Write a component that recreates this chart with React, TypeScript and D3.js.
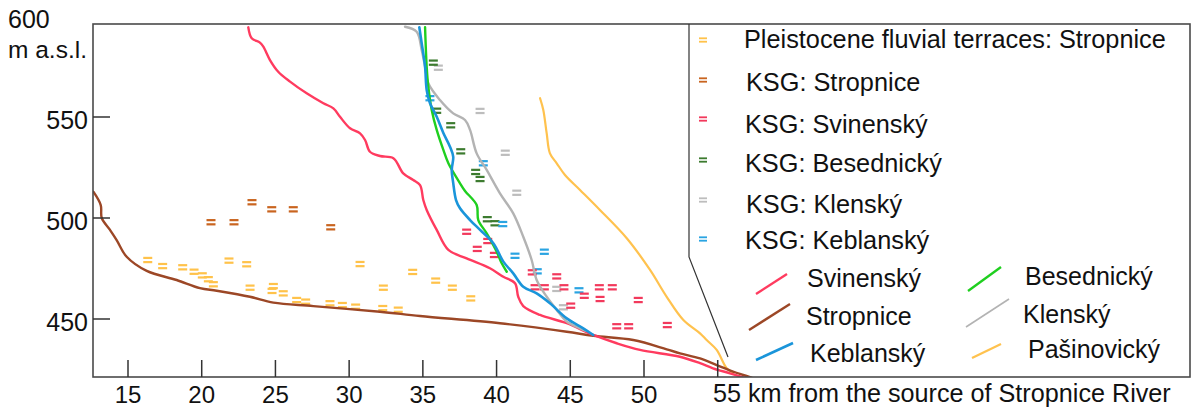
import React from "react";
import * as d3 from "d3";

type Pt = [number, number];

// Longitudinal profiles: [km from source, m a.s.l.]
const stropnice: Pt[] = [
  [12.65, 513.0], [13.15, 506.4], [13.22, 500.0], [13.78, 494.1], [14.23, 489.1],
  [14.91, 480.8], [16.27, 473.8], [18.3, 469.3], [19.88, 465.3], [21.02, 464.0],
  [23.27, 461.0], [24.86, 458.1], [27.57, 456.4], [32.09, 453.6], [34.81, 451.5],
  [40.23, 447.9], [44.76, 443.7], [46.56, 441.7], [49.27, 439.6], [51.54, 435.0],
  [52.44, 433.0], [53.8, 430.5], [54.93, 427.2], [56.04, 423.9], [57.3, 421.0],
];
const svinensky: Pt[] = [
  [23.16, 594.4], [23.39, 589.0], [23.95, 586.8], [24.18, 584.8], [24.63, 578.2],
  [25.19, 572.4], [25.99, 567.5], [27.12, 561.7], [28.25, 556.8], [28.93, 554.3],
  [29.38, 550.1], [30.06, 544.4], [30.74, 541.9], [31.08, 538.6], [31.41, 532.8],
  [32.09, 530.7], [33.0, 529.6], [33.67, 522.1], [34.35, 518.8], [34.81, 516.3],
  [35.03, 508.9], [35.26, 504.0], [35.94, 494.1], [36.73, 484.2], [37.97, 480.0],
  [39.55, 475.1], [40.46, 470.9], [41.25, 467.7], [41.47, 461.0], [41.81, 456.4],
  [42.95, 452.0], [44.76, 447.9], [46.56, 442.1], [48.15, 438.0], [49.73, 434.7],
  [52.44, 431.3], [53.8, 428.1], [54.68, 425.6], [55.83, 423.1], [56.85, 420.8],
];
const keblansky: Pt[] = [
  [34.76, 594.4], [34.92, 586.6], [35.15, 574.9], [35.26, 563.4], [35.48, 556.9],
  [35.94, 550.1], [36.39, 542.1], [36.84, 535.3], [37.06, 530.3], [36.96, 523.8],
  [37.06, 517.3], [37.25, 508.9], [37.52, 504.8], [38.2, 499.0], [38.88, 494.1],
  [39.78, 487.5], [40.46, 478.4], [41.13, 472.6], [41.81, 466.0], [42.72, 462.7],
  [43.62, 457.8], [44.76, 450.3], [45.88, 445.4], [46.56, 442.1],
];
const besednicky: Pt[] = [
  [35.15, 594.4], [35.26, 574.9], [35.37, 565.0], [35.6, 553.5], [35.94, 543.6],
  [36.39, 533.7], [36.73, 527.1], [37.52, 517.2], [37.86, 513.4], [38.65, 506.4],
  [38.76, 499.0], [39.33, 492.4], [40.01, 483.3], [40.35, 477.6], [40.69, 473.4],
];
const klensky: Pt[] = [
  [33.79, 594.7], [34.58, 592.2], [34.92, 583.2], [35.15, 574.9], [35.37, 566.7],
  [36.16, 558.4], [37.06, 551.8], [37.86, 548.5], [38.2, 543.6], [38.65, 532.0],
  [39.33, 523.8], [40.23, 512.2], [41.13, 502.3], [41.81, 490.7], [42.38, 479.2],
  [42.72, 469.3], [43.4, 461.0], [44.08, 454.5], [44.76, 448.7], [45.66, 445.4],
  [46.07, 444.1],
];
const pasinovicky: Pt[] = [
  [42.95, 559.3], [43.17, 553.5], [43.4, 541.9], [43.62, 532.0], [44.08, 527.1],
  [44.64, 521.3], [45.66, 513.9], [47.01, 504.0], [48.83, 490.0], [50.41, 474.3],
  [51.54, 461.0], [52.67, 449.5], [53.8, 442.9], [54.25, 439.6], [54.93, 434.7],
  [55.61, 425.6], [56.06, 423.1],
];

// Terrace and knickpoint levels: [km, m a.s.l.]
const pleistoceneTerraces: Pt[] = [
  [16.34, 479.2], [17.35, 476.2], [18.71, 475.6], [19.48, 473.4], [20.04, 471.6],
  [20.45, 469.7], [20.79, 467.2], [21.85, 478.9], [23.05, 477.1], [23.28, 465.5],
  [24.86, 466.3], [24.77, 463.9], [25.53, 462.7], [26.44, 459.4], [27.05, 458.6],
  [28.7, 457.8], [29.54, 456.9], [30.44, 456.1], [30.74, 477.2], [32.32, 465.5],
  [32.28, 455.4], [33.33, 454.6], [34.31, 473.3], [35.87, 469.0], [37.0, 465.5],
  [38.25, 460.2],
];
const ksgStropnice: Pt[] = [
  [20.63, 497.9], [22.19, 497.9], [23.41, 507.8], [24.75, 504.3], [26.21, 504.3],
  [28.75, 495.4],
];
const ksgSvinensky: Pt[] = [
  [37.97, 493.2], [39.4, 488.6], [38.69, 484.7], [39.85, 481.7], [42.42, 473.1],
  [44.08, 471.1], [42.61, 465.7], [43.24, 465.7], [44.57, 465.7], [45.95, 461.5],
  [45.03, 456.6], [46.97, 465.7], [47.85, 465.7], [47.02, 459.9], [49.61, 459.4],
  [48.15, 446.4], [48.96, 446.4], [51.58, 447.0],
];
const ksgBesednicky: Pt[] = [
  [35.71, 576.9], [35.94, 553.1], [36.89, 545.9], [37.57, 533.0], [38.58, 522.8],
  [38.88, 519.3], [39.37, 499.4], [39.89, 497.4],
];
const ksgKlensky: Pt[] = [
  [36.05, 574.4], [38.88, 553.0], [40.59, 532.3], [41.37, 512.5], [44.08, 464.9],
  [44.53, 455.8],
];
const ksgKeblansky: Pt[] = [
  [35.48, 559.3], [39.1, 527.1], [40.42, 497.0], [41.25, 481.3], [43.24, 483.3],
  [42.76, 473.6], [45.59, 464.2],
];

const xTicks = [15, 20, 25, 30, 35, 40, 45, 50, 55];
const xTickLabels = ["15", "20", "25", "30", "35", "40", "45", "50"];
const yTicks = [450, 500, 550];

const C = {
  svinensky: "#ff3b5f",
  stropnice: "#9c4726",
  keblansky: "#1a95da",
  besednicky: "#1fcf1f",
  klensky: "#b3b3b3",
  pasinovicky: "#ffc24e",
  mTerrace: "#ffc24a",
  mStropnice: "#c9641f",
  mSvinensky: "#f2395c",
  mBesednicky: "#3c7b2f",
  mKlensky: "#bdbdbd",
  mKeblansky: "#2aa4e2",
};

const W = 1193;
const H = 412;
const L = 93, R = 1190, T = 24, B = 377;

const x = d3.scaleLinear().domain([15, 50]).range([128, 644]);
const y = d3.scaleLinear().domain([450, 550]).range([319, 117]);

const line = d3
  .line<Pt>()
  .x((d) => x(d[0]))
  .y((d) => y(d[1]))
  .curve(d3.curveCatmullRom.alpha(0.5));

const FONT = "'Liberation Sans', Arial, Helvetica, sans-serif";

function Marker({ cx, cy, color, w = 9, h = 2.2, gap = 2.1 }: any) {
  return (
    <g>
      <rect x={cx - w / 2} y={cy - gap - h / 2} width={w} height={h} fill={color} />
      <rect x={cx - w / 2} y={cy + gap - h / 2} width={w} height={h} fill={color} />
    </g>
  );
}

const profiles: { data: Pt[]; color: string; width: number }[] = [
  { data: pasinovicky, color: C.pasinovicky, width: 2.2 },
  { data: stropnice, color: C.stropnice, width: 2.4 },
  { data: svinensky, color: C.svinensky, width: 2.4 },
  { data: klensky, color: C.klensky, width: 2.4 },
  { data: besednicky, color: C.besednicky, width: 2.4 },
  { data: keblansky, color: C.keblansky, width: 2.6 },
];

const markerSets: { data: Pt[]; color: string }[] = [
  { data: pleistoceneTerraces, color: C.mTerrace },
  { data: ksgStropnice, color: C.mStropnice },
  { data: ksgKlensky, color: C.mKlensky },
  { data: ksgBesednicky, color: C.mBesednicky },
  { data: ksgKeblansky, color: C.mKeblansky },
  { data: ksgSvinensky, color: C.mSvinensky },
];

const markerLegend = [
  { label: "Pleistocene fluvial terraces: Stropnice", color: C.mTerrace, my: 40, ty: 48, tx: 744 },
  { label: "KSG: Stropnice", color: C.mStropnice, my: 80, ty: 91, tx: 746 },
  { label: "KSG: Svinenský", color: C.mSvinensky, my: 119, ty: 133, tx: 745 },
  { label: "KSG: Besednický", color: C.mBesednicky, my: 160, ty: 172, tx: 745 },
  { label: "KSG: Klenský", color: C.mKlensky, my: 200, ty: 213, tx: 746 },
  { label: "KSG: Keblanský", color: C.mKeblansky, my: 239, ty: 249, tx: 745 },
];

const lineLegend = [
  { label: "Svinenský", color: C.svinensky, x1: 756, y1: 294, x2: 787, y2: 274, tx: 807, ty: 287, w: 2.4 },
  { label: "Stropnice", color: C.stropnice, x1: 749, y1: 330, x2: 790, y2: 304, tx: 806, ty: 325, w: 2.4 },
  { label: "Keblanský", color: C.keblansky, x1: 756, y1: 360, x2: 793, y2: 343, tx: 810, ty: 362, w: 2.6 },
  { label: "Besednický", color: C.besednicky, x1: 968, y1: 291, x2: 1001, y2: 267, tx: 1025, ty: 285, w: 2.4 },
  { label: "Klenský", color: C.klensky, x1: 966, y1: 327, x2: 1009, y2: 299, tx: 1023, ty: 323, w: 1.6 },
  { label: "Pašinovický", color: C.pasinovicky, x1: 972, y1: 358, x2: 1001, y2: 344, tx: 1028, ty: 358, w: 2.2 },
];

export default function App() {
  return (
    <svg
      width={W}
      height={H}
      viewBox={`0 0 ${W} ${H}`}
      style={{ position: "absolute", left: 0, top: 0, background: "#fff" }}
      fontFamily={FONT}
    >
      <defs>
        <clipPath id="plot">
          <rect x={L} y={T} width={R - L} height={B - T} />
        </clipPath>
      </defs>
      <rect x={0} y={0} width={W} height={H} fill="#fff" />

      {/* profiles and level markers */}
      <g clipPath="url(#plot)">
        {markerSets.map((s, i) => (
          <g key={i}>
            {s.data.map((d, j) => (
              <Marker key={j} cx={x(d[0])} cy={y(d[1])} color={s.color} />
            ))}
          </g>
        ))}
        {profiles.map((p, i) => (
          <path
            key={i}
            d={line(p.data) || ""}
            fill="none"
            stroke={p.color}
            strokeWidth={p.width}
            strokeLinejoin="round"
            strokeLinecap="round"
          />
        ))}
      </g>

      {/* frame */}
      <rect x={L} y={T} width={R - L} height={B - T} fill="none" stroke="#4a4a4a" strokeWidth={1.6} />

      {/* axis ticks */}
      {yTicks.map((t) => (
        <g key={t}>
          <line x1={L} x2={L + 17} y1={y(t)} y2={y(t)} stroke="#333" strokeWidth={1.5} />
          <text x={88} y={y(t) + 12} fontSize={25} textAnchor="end" fill="#111">
            {t}
          </text>
        </g>
      ))}
      <text x={8} y={y(600) + 12} fontSize={25} fill="#111">600</text>
      <text x={8} y={58} fontSize={24.5} fill="#111">m a.s.l.</text>

      {xTicks.map((t) => (
        <line key={t} x1={x(t)} x2={x(t)} y1={B} y2={B - 17} stroke="#333" strokeWidth={1.5} />
      ))}
      {xTickLabels.map((t) => (
        <text key={t} x={x(+t)} y={403} fontSize={24} textAnchor="middle" fill="#111">
          {t}
        </text>
      ))}
      <text x={713} y={402} fontSize={25.2} fill="#111">
        55 km from the source of Stropnice River
      </text>

      {/* legend panel border with callout */}
      <polyline
        points={`689,${T} 689,257 728,357`}
        fill="none"
        stroke="#333"
        strokeWidth={1.2}
      />
      {markerLegend.map((m) => (
        <g key={m.label}>
          <Marker cx={703} cy={m.my} color={m.color} w={8} h={1.8} gap={1.7} />
          <text x={m.tx} y={m.ty} fontSize={25.3} fill="#111">
            {m.label}
          </text>
        </g>
      ))}
      {lineLegend.map((l) => (
        <g key={l.label}>
          <line x1={l.x1} y1={l.y1} x2={l.x2} y2={l.y2} stroke={l.color} strokeWidth={l.w} />
          <text x={l.tx} y={l.ty} fontSize={25} fill="#111">
            {l.label}
          </text>
        </g>
      ))}
    </svg>
  );
}
